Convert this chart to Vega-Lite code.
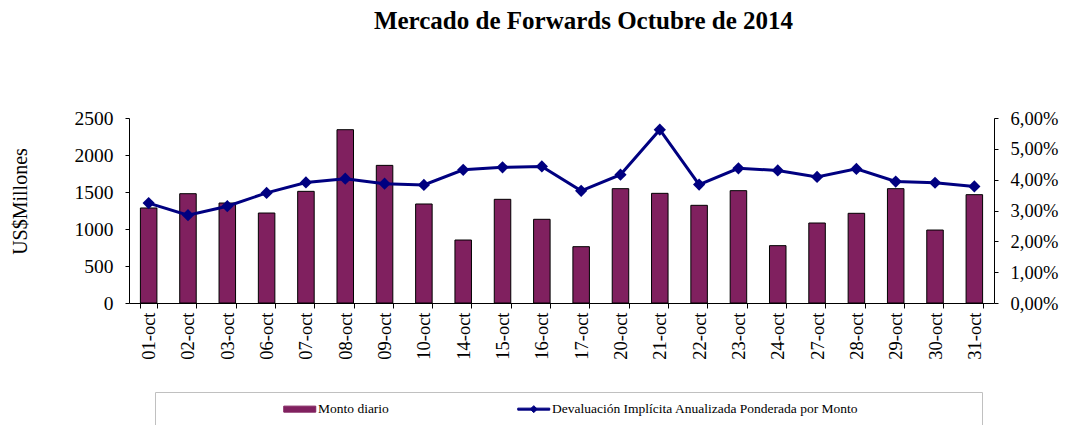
{
  "$schema": "https://vega.github.io/schema/vega-lite/v6.json",
  "width": 865,
  "height": 185,
  "autosize": {"type": "none"},
  "padding": {"left": 129, "top": 118, "right": 86, "bottom": 122},
  "background": "white",
  "title": {
    "text": "Mercado de Forwards Octubre de 2014",
    "font": "Liberation Serif",
    "fontSize": 25,
    "fontWeight": "bold",
    "color": "black",
    "anchor": "middle",
    "frame": "group",
    "dx": 22,
    "offset": 74
  },
  "data": {
    "values": [
      {"fecha": "01-oct", "monto": 1284, "devaluacion": 0.0324},
      {"fecha": "02-oct", "monto": 1477, "devaluacion": 0.0285},
      {"fecha": "03-oct", "monto": 1351, "devaluacion": 0.0314},
      {"fecha": "06-oct", "monto": 1216, "devaluacion": 0.0357},
      {"fecha": "07-oct", "monto": 1509, "devaluacion": 0.0391},
      {"fecha": "08-oct", "monto": 2342, "devaluacion": 0.0403},
      {"fecha": "09-oct", "monto": 1860, "devaluacion": 0.0387},
      {"fecha": "10-oct", "monto": 1338, "devaluacion": 0.0383},
      {"fecha": "14-oct", "monto": 851, "devaluacion": 0.0432},
      {"fecha": "15-oct", "monto": 1401, "devaluacion": 0.0440},
      {"fecha": "16-oct", "monto": 1131, "devaluacion": 0.0443},
      {"fecha": "17-oct", "monto": 761, "devaluacion": 0.0364},
      {"fecha": "20-oct", "monto": 1545, "devaluacion": 0.0416},
      {"fecha": "21-oct", "monto": 1482, "devaluacion": 0.0562},
      {"fecha": "22-oct", "monto": 1320, "devaluacion": 0.0384},
      {"fecha": "23-oct", "monto": 1518, "devaluacion": 0.0437},
      {"fecha": "24-oct", "monto": 775, "devaluacion": 0.0430},
      {"fecha": "27-oct", "monto": 1081, "devaluacion": 0.0409},
      {"fecha": "28-oct", "monto": 1212, "devaluacion": 0.0435},
      {"fecha": "29-oct", "monto": 1545, "devaluacion": 0.0394},
      {"fecha": "30-oct", "monto": 986, "devaluacion": 0.0390},
      {"fecha": "31-oct", "monto": 1464, "devaluacion": 0.0378}
    ]
  },
  "encoding": {
    "x": {
      "field": "fecha",
      "type": "ordinal",
      "sort": null,
      "scale": {"paddingInner": 0.58, "paddingOuter": 0.29},
      "axis": {
        "title": null,
        "labelAngle": -90,
        "labelFontSize": 18.5,
        "labelPadding": 4,
        "tickBand": "extent",
        "tickSize": 5
      }
    }
  },
  "layer": [
    {
      "mark": {"type": "bar", "stroke": "black", "strokeWidth": 1},
      "encoding": {
        "y": {
          "field": "monto",
          "type": "quantitative",
          "scale": {"domain": [0, 2500]},
          "axis": {
            "title": "US$Millones",
            "values": [0, 500, 1000, 1500, 2000, 2500],
            "format": "d",
            "labelFontSize": 19.5,
            "titleFontSize": 20,
            "titlePadding": 44,
            "titleY": 83
          }
        },
        "color": {
          "datum": "Monto diario",
          "scale": {
            "domain": ["Monto diario", "Devaluación Implícita Anualizada Ponderada por Monto"],
            "range": ["#80205F", "#000080"]
          },
          "legend": {
            "title": " ",
            "encode": {
              "symbols": {
                "update": {
                  "shape": {"signal": "datum.value === 'Monto diario' ? 'M-3.2,-0.6H3.2V0.6H-3.2Z' : 'M-3.2,-0.2H3.2V0.2H-3.2ZM0,-0.7L0.7,0L0,0.7L-0.7,0Z'"},
                  "fill": {"signal": "datum.value === 'Monto diario' ? '#80205F' : '#000080'"},
                  "stroke": {"signal": "datum.value === 'Monto diario' ? 'black' : '#000080'"},
                  "strokeWidth": {"value": 1}
                }
              }
            }
          }
        }
      }
    },
    {
      "mark": {
        "type": "line",
        "strokeWidth": 3,
        "point": {"filled": true, "shape": "diamond", "size": 150}
      },
      "encoding": {
        "y": {
          "field": "devaluacion",
          "type": "quantitative",
          "scale": {"domain": [0, 0.06]},
          "axis": {
            "orient": "right",
            "title": null,
            "values": [0, 0.01, 0.02, 0.03, 0.04, 0.05, 0.06],
            "labelExpr": "replace(format(datum.value, '.2%'), '.', ',')"
          }
        },
        "color": {
          "datum": "Devaluación Implícita Anualizada Ponderada por Monto",
          "legend": {
            "title": " ",
            "encode": {
              "symbols": {
                "update": {
                  "shape": {"signal": "datum.value === 'Monto diario' ? 'M-3.2,-0.6H3.2V0.6H-3.2Z' : 'M-3.2,-0.2H3.2V0.2H-3.2ZM0,-0.7L0.7,0L0,0.7L-0.7,0Z'"},
                  "fill": {"signal": "datum.value === 'Monto diario' ? '#80205F' : '#000080'"},
                  "stroke": {"signal": "datum.value === 'Monto diario' ? 'black' : '#000080'"},
                  "strokeWidth": {"value": 1}
                }
              }
            }
          }
        }
      }
    }
  ],
  "resolve": {"scale": {"y": "independent"}},
  "config": {
    "view": {"stroke": null},
    "font": "Liberation Serif",
    "axis": {
      "grid": false,
      "labelFont": "Liberation Serif",
      "labelFontSize": 18.5,
      "labelColor": "black",
      "titleFont": "Liberation Serif",
      "titleFontSize": 18,
      "titleFontWeight": "normal",
      "titleColor": "black",
      "domainColor": "black",
      "tickColor": "black",
      "tickSize": 4,
      "labelPadding": 12
    },
    "legend": {
      "orient": "none",
      "legendX": 26,
      "legendY": 274,
      "direction": "horizontal",
      "titleOrient": "right",
      "titlePadding": 114,
      "titleFontSize": 3,
      "padding": 10,
      "strokeColor": "#c0c0c0",
      "symbolSize": 100,
      "symbolStrokeWidth": 1,
      "symbolOffset": 128,
      "labelOffset": 11.5,
      "columnPadding": 10,
      "labelFont": "Liberation Serif",
      "labelFontSize": 13.5,
      "labelColor": "black",
      "labelLimit": 500
    }
  }
}
